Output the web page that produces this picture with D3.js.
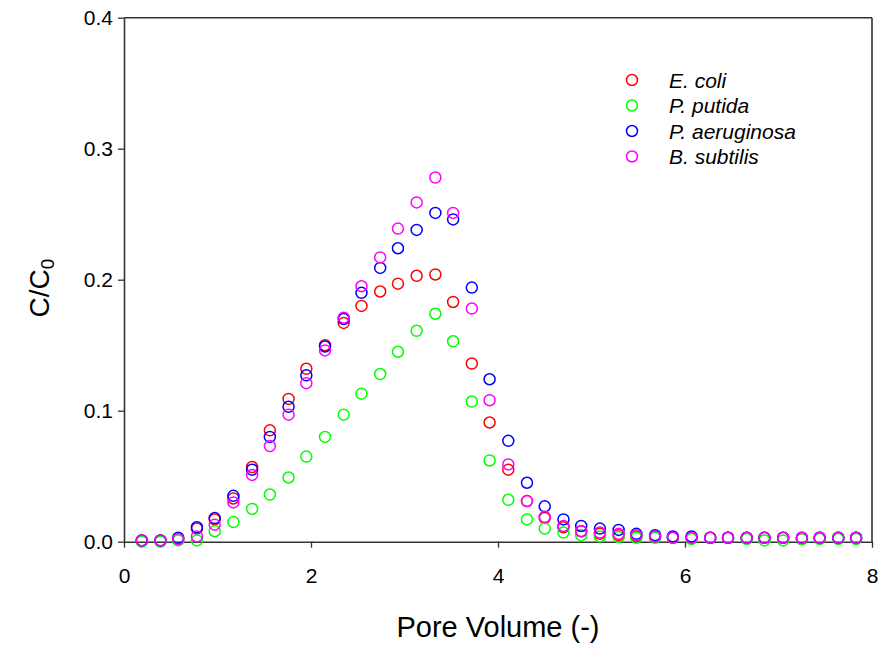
<!DOCTYPE html>
<html>
<head>
<meta charset="utf-8">
<script src="https://cdn.jsdelivr.net/npm/d3@7"></script>
<style>
	body { margin: 0; background: #fff; }
	svg { display: block; font-family: "Liberation Sans", Arial, sans-serif; }
</style>
</head>
<body>
<div id="chart"></div>
<script>
// breakthrough curves, C/C0 against pore volume
var poreVolume = [0.19, 0.39, 0.58, 0.78, 0.97, 1.17, 1.37, 1.56, 1.76, 1.95,
	2.15, 2.35, 2.54, 2.74, 2.93, 3.13, 3.33, 3.52, 3.72, 3.91,
	4.11, 4.31, 4.50, 4.70, 4.89, 5.09, 5.29, 5.48, 5.68, 5.87,
	6.07, 6.27, 6.46, 6.66, 6.85, 7.05, 7.25, 7.44, 7.64, 7.83];

var eColi = [0.001, 0.001, 0.002, 0.010, 0.017, 0.033, 0.057, 0.085, 0.109, 0.132,
	0.150, 0.167, 0.180, 0.191, 0.197, 0.203, 0.204, 0.183, 0.136, 0.091,
	0.055, 0.031, 0.018, 0.011, 0.008, 0.006, 0.005, 0.004, 0.004, 0.003,
	0.003, 0.003, 0.003, 0.003, 0.003, 0.003, 0.002, 0.003, 0.003, 0.003];

var pPutida = [0.000, 0.000, 0.001, 0.001, 0.008, 0.015, 0.025, 0.036, 0.049, 0.065,
	0.080, 0.097, 0.113, 0.128, 0.145, 0.161, 0.174, 0.153, 0.107, 0.062,
	0.032, 0.017, 0.010, 0.007, 0.005, 0.004, 0.0035, 0.003, 0.003, 0.003,
	0.002, 0.003, 0.003, 0.002, 0.001, 0.001, 0.002, 0.002, 0.002, 0.002];

var pAeruginosa = [0.001, 0.001, 0.003, 0.011, 0.018, 0.035, 0.055, 0.080, 0.103, 0.127,
	0.149, 0.170, 0.190, 0.209, 0.224, 0.238, 0.251, 0.246, 0.194, 0.124,
	0.077, 0.045, 0.027, 0.017, 0.012, 0.010, 0.009, 0.006, 0.005, 0.004,
	0.004, 0.003, 0.003, 0.003, 0.003, 0.003, 0.003, 0.003, 0.003, 0.003];

var bSubtilis = [0.001, 0.001, 0.002, 0.004, 0.013, 0.030, 0.051, 0.073, 0.097, 0.121,
	0.146, 0.171, 0.195, 0.217, 0.239, 0.259, 0.278, 0.251, 0.178, 0.108,
	0.059, 0.031, 0.019, 0.012, 0.008, 0.007, 0.006, 0.005, 0.004, 0.003,
	0.003, 0.003, 0.003, 0.003, 0.003, 0.003, 0.003, 0.003, 0.003, 0.003];

var seriesNames = ["E. coli", "P. putida", "P. aeruginosa", "B. subtilis"];
var seriesColors = ["#ff0000", "#00ff00", "#0000ff", "#ff00ff"];
var seriesValues = [eColi, pPutida, pAeruginosa, bSubtilis];

var xTicks = [0, 2, 4, 6, 8];
var yTicks = [0, 0.1, 0.2, 0.3, 0.4];

(function() {

	var width = 881, height = 647;
	var plotLeft = 124, plotRight = 872, plotTop = 17.7, plotBottom = 541.7;
	var axisColor = "#333";

	var svg = d3.select("#chart").append("svg")
		.attr("width", width)
		.attr("height", height);

	var x = d3.scaleLinear().domain([0, 8]).range([plotLeft, plotRight]);
	var y = d3.scaleLinear().domain([0, 0.4]).range([plotBottom, plotTop]);

	// frame lines on top and right
	svg.append("line")
		.attr("x1", x(0)).attr("x2", x(8))
		.attr("y1", y(0.4)).attr("y2", y(0.4))
		.attr("stroke", axisColor).attr("stroke-width", 1.6);
	svg.append("line")
		.attr("x1", x(8)).attr("x2", x(8))
		.attr("y1", y(0.4)).attr("y2", y(0))
		.attr("stroke", axisColor).attr("stroke-width", 1.6);

	var xAxis = svg.append("g")
		.attr("transform", "translate(0," + plotBottom + ")")
		.call(d3.axisBottom(x).tickValues(xTicks).tickFormat(d3.format("d"))
			.tickSize(6).tickSizeOuter(0).tickPadding(20));

	var yAxis = svg.append("g")
		.attr("transform", "translate(" + plotLeft + ",0)")
		.call(d3.axisLeft(y).tickValues(yTicks).tickFormat(d3.format(".1f"))
			.tickSize(6).tickSizeOuter(0).tickPadding(5));

	[xAxis, yAxis].forEach(function(g) {
		g.attr("font-size", null).attr("font-family", null);
		g.select(".domain").attr("stroke", axisColor).attr("stroke-width", 1.6);
		g.selectAll(".tick line").attr("stroke", axisColor).attr("stroke-width", 1.3);
		g.selectAll(".tick text")
			.attr("fill", "#000")
			.style("font-size", "21px");
	});

	// axis titles
	svg.append("text")
		.attr("x", (plotLeft + plotRight) / 2)
		.attr("y", 637)
		.attr("text-anchor", "middle")
		.style("font-size", "29px")
		.text("Pore Volume (-)");

	var yTitle = svg.append("text")
		.attr("transform", "translate(49,288) rotate(-90)")
		.attr("text-anchor", "middle")
		.style("font-size", "28px");
	yTitle.append("tspan").text("C/C");
	yTitle.append("tspan").attr("baseline-shift", "-25%").style("font-size", "19px").text("0");

	// points
	seriesValues.forEach(function(vals, s) {
		svg.append("g").selectAll("circle")
			.data(vals).enter()
			.append("circle")
				.attr("cx", function(d, i) { return x(poreVolume[i]); })
				.attr("cy", function(d) { return y(d); })
				.attr("r", 5.5)
				.attr("fill", "none")
				.attr("stroke", seriesColors[s])
				.attr("stroke-width", 1.5);
	});

	// legend
	var legend = svg.append("g").selectAll("g")
		.data(seriesNames).enter()
		.append("g")
			.attr("transform", function(d, i) { return "translate(632," + (80 + i * 25.5) + ")"; });
	legend.append("circle")
		.attr("r", 5.5)
		.attr("fill", "none")
		.attr("stroke", function(d, i) { return seriesColors[i]; })
		.attr("stroke-width", 1.5);
	legend.append("text")
		.attr("x", 37)
		.attr("dy", "0.36em")
		.style("font-size", "21px")
		.style("font-style", "italic")
		.text(function(d) { return d; });

})();
</script>
</body>
</html>
